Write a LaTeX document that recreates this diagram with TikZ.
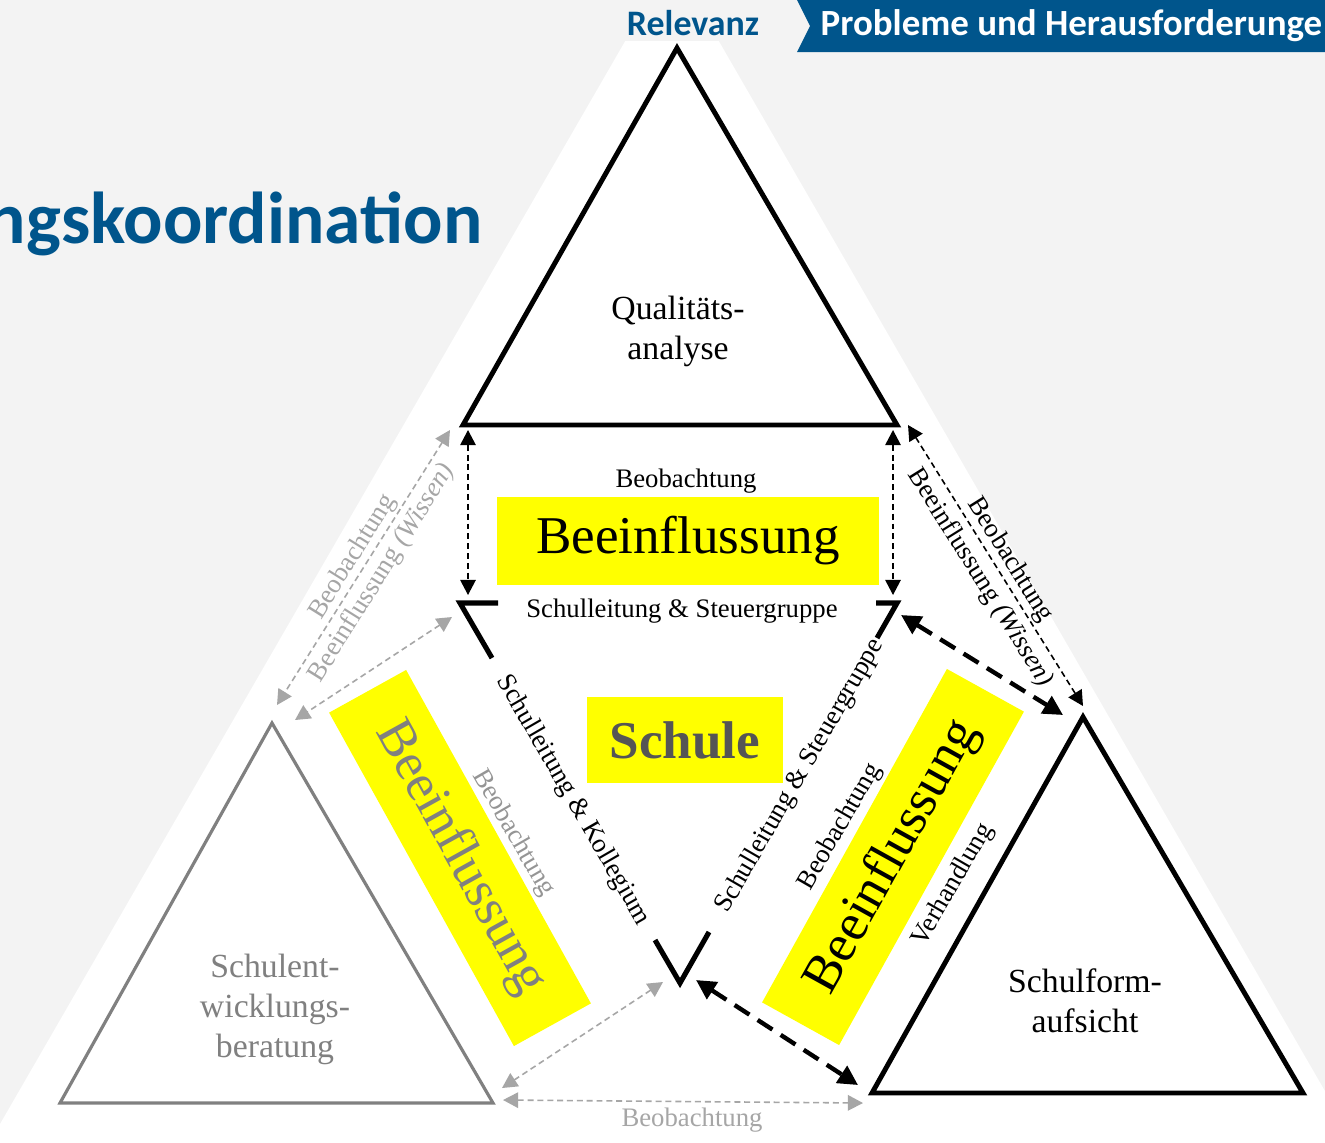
\documentclass[tikz,border=0pt]{standalone}
\usepackage{fontspec}
\setmainfont{Liberation Serif}
\newfontfamily\hdfont{Carlito}
\usetikzlibrary{arrows.meta}

\definecolor{pagegray}{HTML}{F3F3F3}
\definecolor{hdblue}{HTML}{00558C}
\definecolor{midgray}{HTML}{808080}
\definecolor{ltgray}{HTML}{A6A6A6}
\definecolor{schulgray}{HTML}{555555}
\definecolor{flagyellow}{RGB}{255,255,0}

\newcommand{\smallsz}{\fontsize{7.6}{9}\selectfont}
\newcommand{\midsz}{\fontsize{9.6}{11.4}\selectfont}
\newcommand{\bigsz}{\fontsize{15.1}{18}\selectfont}

\begin{document}
\begin{tikzpicture}[x=0.01cm, y=-0.01cm,
    roletri/.style={line width=1.4pt, line join=miter},
    corner/.style={line width=1.45pt, line join=miter},
    tag/.style={inner sep=0pt, font=\smallsz},
    flag/.style={fill=flagyellow, inner sep=0pt, minimum width=3.81cm, minimum height=0.88cm, font=\bigsz},
    link/.style={line width=0.45pt, dash pattern=on 1.7pt off 1.1pt,
        arrows={Triangle[length=4.3pt,width=4.4pt]-Triangle[length=4.3pt,width=4.4pt]}},
    strong link/.style={line width=1.25pt, dash pattern=on 5pt off 2.8pt,
        arrows={Triangle[length=5.6pt,width=5.6pt]-Triangle[length=5.6pt,width=5.6pt]}}]
    \useasboundingbox (0,0) rectangle (1325,1142);
    \clip (0,0) rectangle (1325,1142);

    \fill[pagegray] (0,0) rectangle (1325,1142);
    \fill[white] (672,-40) -- (1374,1176) -- (-30,1176) -- cycle;
    \fill[pagegray] (0,0) rectangle (1325,41);
    \fill[hdblue] (797,0) -- (1325,0) -- (1325,52) -- (797,52) -- (810,26) -- cycle;

    \node[anchor=base, inner sep=0pt, text=hdblue, font=\hdfont\bfseries\fontsize{10.2}{12}\selectfont] (relevanz) at (693,35) {Relevanz};
    \node[anchor=base west, inner sep=0pt, text=white, font=\hdfont\bfseries\fontsize{10.5}{12}\selectfont] (probleme) at (820,35) {Probleme und Herausforderunge};
    \node[anchor=base east, inner sep=0pt, text=hdblue, font=\hdfont\bfseries\fontsize{20.9}{25}\selectfont] (titel) at (483,243) {ngskoordination};

    \coordinate (qa-t) at (677,48);
    \coordinate (qa-l) at (463,425);
    \coordinate (qa-r) at (897,425);
    \draw[roletri] (qa-t) -- (qa-l) -- (qa-r) -- cycle;
    \node[inner sep=0pt, font=\midsz, align=center] (qa) at (678,331) {Qualitäts-\\analyse};

    \coordinate (sfa-t) at (1083,717);
    \coordinate (sfa-l) at (872,1093);
    \coordinate (sfa-r) at (1303,1093);
    \draw[roletri] (sfa-t) -- (sfa-l) -- (sfa-r) -- cycle;
    \node[inner sep=0pt, font=\midsz, align=center] (sfa) at (1085,1001) {Schulform-\\aufsicht};

    \coordinate (seb-t) at (272,723);
    \coordinate (seb-l) at (60,1103);
    \coordinate (seb-r) at (493,1103);
    \draw[roletri, midgray, line width=0.9pt] (seb-t) -- (seb-l) -- (seb-r) -- cycle;
    \node[inner sep=0pt, font=\midsz, align=center, text=midgray] (seb) at (275,1009) {Schulent-\\wicklungs-\\beratung};

    \draw[corner] (498,603) -- (460,603) -- (492,658);
    \draw[corner] (655,940) -- (680,983) -- (709,932);
    \draw[corner] (876,603) -- (897,603) -- (877,638);

    \node[tag] (sl-top) at (682,611) {Schulleitung \& Steuergruppe};
    \node[tag, rotate=-60] (sl-ko) at (573,800) {Schulleitung \& Kollegium};
    \node[tag, rotate=60] (sl-sg) at (800,776) {Schulleitung \& Steuergruppe};

    \node[flag] (einfluss-qa) at (688,541) {Beeinflussung};
    \node[tag] (beob-qa) at (686,481) {Beobachtung};
    \node[flag, rotate=-61, text=midgray] (einfluss-seb) at (460,858) {Beeinflussung};
    \node[tag, rotate=-60, text=ltgray!90!black] (beob-seb) at (513,833) {Beobachtung};
    \node[flag, rotate=61] (einfluss-sfa) at (893,857) {Beeinflussung};
    \node[tag, rotate=60] (beob-sfa) at (840,827) {Beobachtung};
    \node[tag, rotate=60] (verhandlung) at (953,885) {Verhandlung};
    \node[fill=flagyellow, inner sep=0pt, minimum width=1.96cm, minimum height=0.86cm, text=schulgray, font=\bigsz\bfseries] (schule) at (685,740) {Schule};

    \coordinate (qa-sl1) at (468,430);
    \coordinate (sl-qa1) at (468,595);
    \coordinate (qa-sl2) at (893,430);
    \coordinate (sl-qa2) at (893,595);
    \draw[link] (qa-sl1) -- (sl-qa1);
    \draw[link] (qa-sl2) -- (sl-qa2);

    \coordinate (qa-seb) at (450,430);
    \coordinate (seb-qa) at (277,705);
    \coordinate (sl-seb) at (452,617);
    \coordinate (seb-sl) at (295,720);
    \coordinate (ko-seb) at (663,982);
    \coordinate (seb-ko) at (502,1088);
    \coordinate (seb-sfa) at (503,1100);
    \coordinate (sfa-seb) at (863,1103);
    \draw[link, ltgray] (qa-seb) -- (seb-qa);
    \draw[link, ltgray] (sl-seb) -- (seb-sl);
    \draw[link, ltgray] (ko-seb) -- (seb-ko);
    \draw[link, ltgray] (seb-sfa) -- (sfa-seb);
    \node[tag, rotate=58, text=ltgray] (beob-qa-seb) at (353,557) {Beobachtung};
    \node[tag, rotate=58, text=ltgray] (wissen-seb) at (382,573) {Beeinflussung \textit{(Wissen)}};
    \node[tag, text=ltgray] (beob-seb-sfa) at (692,1120) {Beobachtung};

    \coordinate (qa-sfa) at (908,425);
    \coordinate (sfa-qa) at (1083,706);
    \coordinate (sg-sfa) at (901,615);
    \coordinate (sfa-sg) at (1063,715);
    \coordinate (ko-sfa) at (696,980);
    \coordinate (sfa-ko) at (858,1085);
    \draw[link] (qa-sfa) -- (sfa-qa);
    \draw[strong link] (sg-sfa) -- (sfa-sg);
    \draw[strong link] (ko-sfa) -- (sfa-ko);
    \node[tag, rotate=-58] (beob-qa-sfa) at (1010,560) {Beobachtung};
    \node[tag, rotate=-58] (wissen-sfa) at (980,578) {Beeinflussung \textit{(Wissen)}};
\end{tikzpicture}
\end{document}
